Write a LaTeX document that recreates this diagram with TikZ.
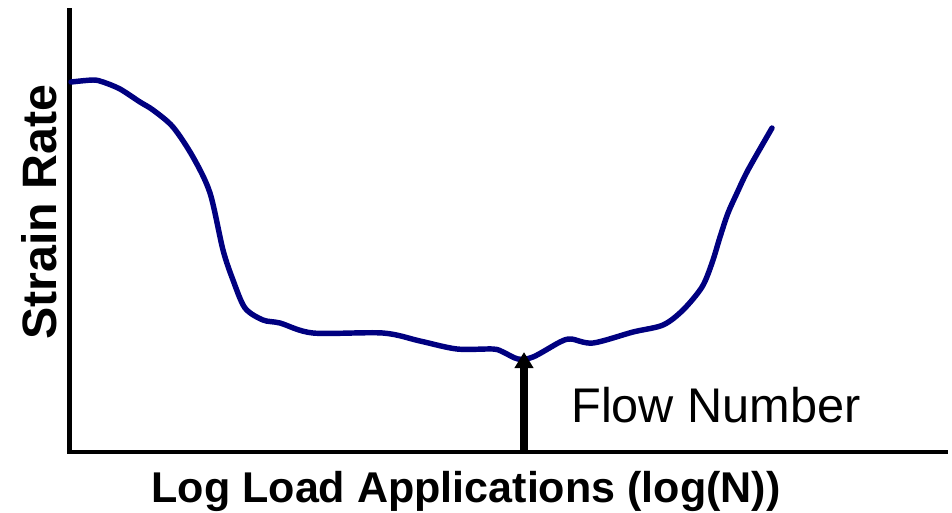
\documentclass[tikz,border=0pt]{standalone}
\usepackage{fontspec}
\setmainfont{Liberation Sans}
\usepackage{tikz}
\usetikzlibrary{arrows.meta}
\definecolor{curvenavy}{RGB}{0,0,128}

\begin{document}
\begin{tikzpicture}[
    x=0.02cm, y=-0.02cm,
    axis/.style={line width=2.3pt, line join=miter},
    rate/.style={curvenavy, line width=3.1pt, line cap=round, line join=round},
    flowarr/.style={-{Triangle[width=0.36cm, length=0.32cm]}, line width=4pt},
    axlabel/.style={font=\bfseries\fontsize{24.5}{28}\selectfont, inner sep=0pt},
    flowlabel/.style={font=\fontsize{27.7}{32}\selectfont, inner sep=0pt}
]
    \useasboundingbox (0,0) rectangle (952,512);

    \coordinate (ytop) at (69.5,8);
    \coordinate (origin) at (69.5,452);
    \coordinate (xend) at (948,452);
    \draw[axis] (ytop) -- (origin) -- (xend);

    \draw[rate] plot[smooth, tension=0.5] coordinates {
        (71,82) (93,80) (103,82) (120,89) (140,102) (153,110) (173,127)
        (193,157) (210,193) (223,250) (233,280) (245,308) (263,320)
        (280,323) (313,333) (383,333) (420,341) (457,349) (493,349)
        (503,352) (518,359) (533,357) (560,342) (571,339) (593,343)
        (633,332) (663,325) (683,310) (702,287) (712,263) (720,237)
        (728,213) (737,193) (748,170) (772,128)};

    \coordinate (flowbase) at (524,452);
    \coordinate (flowtip) at (524,352);
    \draw[flowarr] (flowbase) -- (flowtip);

    \node[flowlabel, anchor=base west] (flow) at (571,422) {Flow Number};
    \node[axlabel, anchor=base] (xlab) at (466,502) {Log Load Applications (log(N))};
    \node[axlabel, font=\bfseries\fontsize{27.5}{32}\selectfont, rotate=90, anchor=base] (ylab) at (56,212) {Strain Rate};
\end{tikzpicture}
\end{document}
